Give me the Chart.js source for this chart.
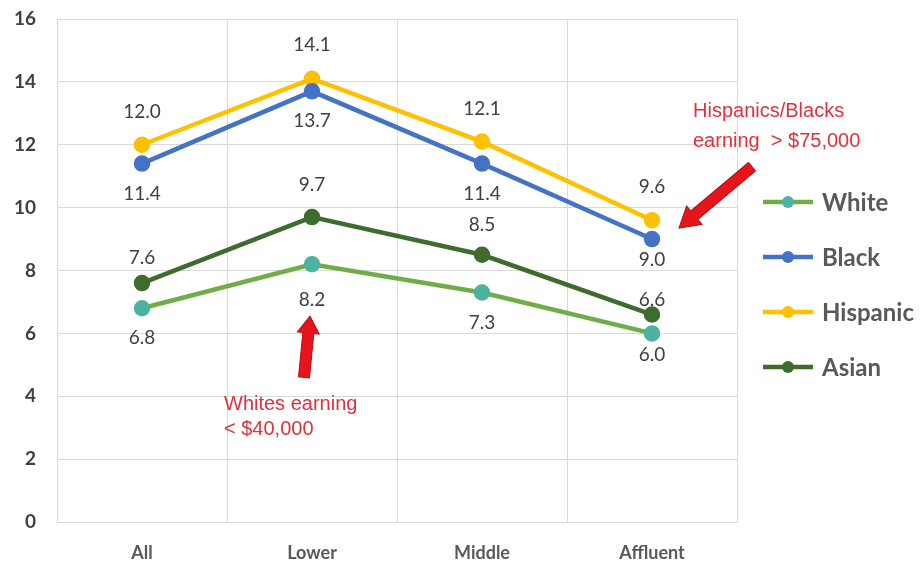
<!DOCTYPE html>
<html>
<head>
<meta charset="utf-8">
<script src="https://cdn.jsdelivr.net/npm/chart.js@4.4.1/dist/chart.umd.min.js"></script>
<style>
  html, body { margin: 0; padding: 0; background: #fff; }
  #wrap { width: 924px; height: 567px; position: relative; }
</style>
</head>
<body>
<div id="wrap"><canvas id="chart"></canvas></div>
<script>
// categories and series
const categories = ["All", "Lower", "Middle", "Affluent"];
const white = [6.8, 8.2, 7.3, 6.0];
const black = [11.4, 13.7, 11.4, 9.0];
const hispanic = [12.0, 14.1, 12.1, 9.6];
const asian = [7.6, 9.7, 8.5, 6.6];
const yTicks = [0, 2, 4, 6, 8, 10, 12, 14, 16];

const FONT = "Lato, 'Open Sans', sans-serif";

function series(label, data, line, dot, labelOffset) {
  return {
    label: label,
    data: data,
    borderColor: line,
    backgroundColor: dot,
    pointBackgroundColor: dot,
    pointBorderColor: dot,
    borderWidth: 4.5,
    pointRadius: 6,
    tension: 0,
    labelOffset: labelOffset,
  };
}

// value labels next to each point
const valueLabels = {
  id: "valueLabels",
  afterDatasetsDraw(chart) {
    const ctx = chart.ctx;
    ctx.save();
    ctx.font = "19px " + FONT;
    ctx.fillStyle = "#404040";
    ctx.textAlign = "center";
    ctx.textBaseline = "middle";
    chart.data.datasets.forEach((ds, i) => {
      chart.getDatasetMeta(i).data.forEach((pt, j) => {
        const off = ds.labelOffset[j];
        ctx.fillText(ds.data[j].toFixed(1), pt.x, pt.y + off);
      });
    });
    ctx.restore();
  },
};

// legend on the right: line with a dot, bold name
const sideLegend = {
  id: "sideLegend",
  afterDraw(chart) {
    const ctx = chart.ctx;
    const area = chart.chartArea;
    ctx.save();
    chart.data.datasets.forEach((ds, i) => {
      const y = area.top + 183 + i * 55;
      const x0 = area.right + 26;
      ctx.strokeStyle = ds.borderColor;
      ctx.lineWidth = 4.5;
      ctx.beginPath();
      ctx.moveTo(x0, y);
      ctx.lineTo(x0 + 50, y);
      ctx.stroke();
      ctx.fillStyle = ds.pointBackgroundColor;
      ctx.beginPath();
      ctx.arc(x0 + 25, y, 6, 0, Math.PI * 2);
      ctx.fill();
      ctx.fillStyle = "#595959";
      ctx.font = "bold 24px " + FONT;
      ctx.textAlign = "left";
      ctx.textBaseline = "middle";
      ctx.fillText(ds.label, x0 + 59, y + 1);
    });
    ctx.restore();
  },
};

function arrow(ctx, x1, y1, x2, y2, shaft, head, headLen) {
  const ang = Math.atan2(y2 - y1, x2 - x1);
  const len = Math.hypot(x2 - x1, y2 - y1);
  ctx.save();
  ctx.translate(x1, y1);
  ctx.rotate(ang);
  ctx.beginPath();
  ctx.moveTo(0, -shaft / 2);
  ctx.lineTo(len - headLen, -shaft / 2);
  ctx.lineTo(len - headLen, -head / 2);
  ctx.lineTo(len, 0);
  ctx.lineTo(len - headLen, head / 2);
  ctx.lineTo(len - headLen, shaft / 2);
  ctx.lineTo(0, shaft / 2);
  ctx.closePath();
  ctx.fillStyle = "#E8141B";
  ctx.fill();
  ctx.strokeStyle = "#B01015";
  ctx.lineWidth = 1;
  ctx.stroke();
  ctx.restore();
}

// red callouts
const callouts = {
  id: "callouts",
  afterDraw(chart) {
    const ctx = chart.ctx;
    const xs = chart.scales.x;
    const ys = chart.scales.y;
    const lowerX = xs.getPixelForValue(1);
    const affX = xs.getPixelForValue(3);

    arrow(ctx, lowerX - 8, ys.getPixelForValue(4.6), lowerX - 2, ys.getPixelForValue(6.55), 11, 22, 17);
    arrow(ctx, affX + 100, ys.getPixelForValue(11.3), affX + 27, ys.getPixelForValue(9.35), 11, 24, 20);

    ctx.save();
    ctx.fillStyle = "#E0303C";
    ctx.font = "20px Arial, 'Liberation Sans', sans-serif";
    ctx.textAlign = "left";
    ctx.textBaseline = "middle";
    ctx.fillText("Whites earning", lowerX - 88, ys.getPixelForValue(3.75));
    ctx.fillText("< $40,000", lowerX - 88, ys.getPixelForValue(2.95));
    ctx.fillText("Hispanics/Blacks", affX + 41, ys.getPixelForValue(13.05));
    ctx.fillText("earning  > $75,000", affX + 41, ys.getPixelForValue(12.1));
    ctx.restore();
  },
};

new Chart(document.getElementById("chart"), {
  type: "line",
  data: {
    labels: categories,
    datasets: [
      series("White", white, "#70AD47", "#4BB3A0", [30, 36, 30, 21]),
      series("Black", black, "#4472C4", "#4472C4", [30, 30, 30, 21]),
      series("Hispanic", hispanic, "#FFC000", "#FFC000", [-33, -34, -33, -33]),
      series("Asian", asian, "#3E6B2E", "#3E6B2E", [-25, -32, -30, -15]),
    ],
  },
  options: {
    responsive: true,
    maintainAspectRatio: false,
    animation: false,
    layout: { padding: { top: 19, right: 187, left: 0, bottom: 0 } },
    plugins: { legend: { display: false }, tooltip: { enabled: false } },
    scales: {
      x: {
        offset: true,
        grid: { offset: true, color: "#D9D9D9", drawTicks: false },
        border: { color: "#D9D9D9" },
        ticks: {
          padding: 20,
          color: "#595959",
          font: { family: FONT, size: 18, weight: "bold" },
        },
        afterFit(scale) { scale.height = 45; },
      },
      y: {
        min: 0,
        max: 16,
        afterBuildTicks(scale) { scale.ticks = yTicks.map((v) => ({ value: v })); },
        grid: { color: "#D9D9D9", drawTicks: false },
        border: { color: "#D9D9D9" },
        ticks: {
          padding: 21,
          color: "#404040",
          font: { family: FONT, size: 19, weight: "bold" },
        },
        afterFit(scale) {
          scale.width = 57;
          scale.paddingTop = 0;
          scale.paddingBottom = 0;
        },
      },
    },
  },
  plugins: [valueLabels, sideLegend, callouts],
});
</script>
</body>
</html>
